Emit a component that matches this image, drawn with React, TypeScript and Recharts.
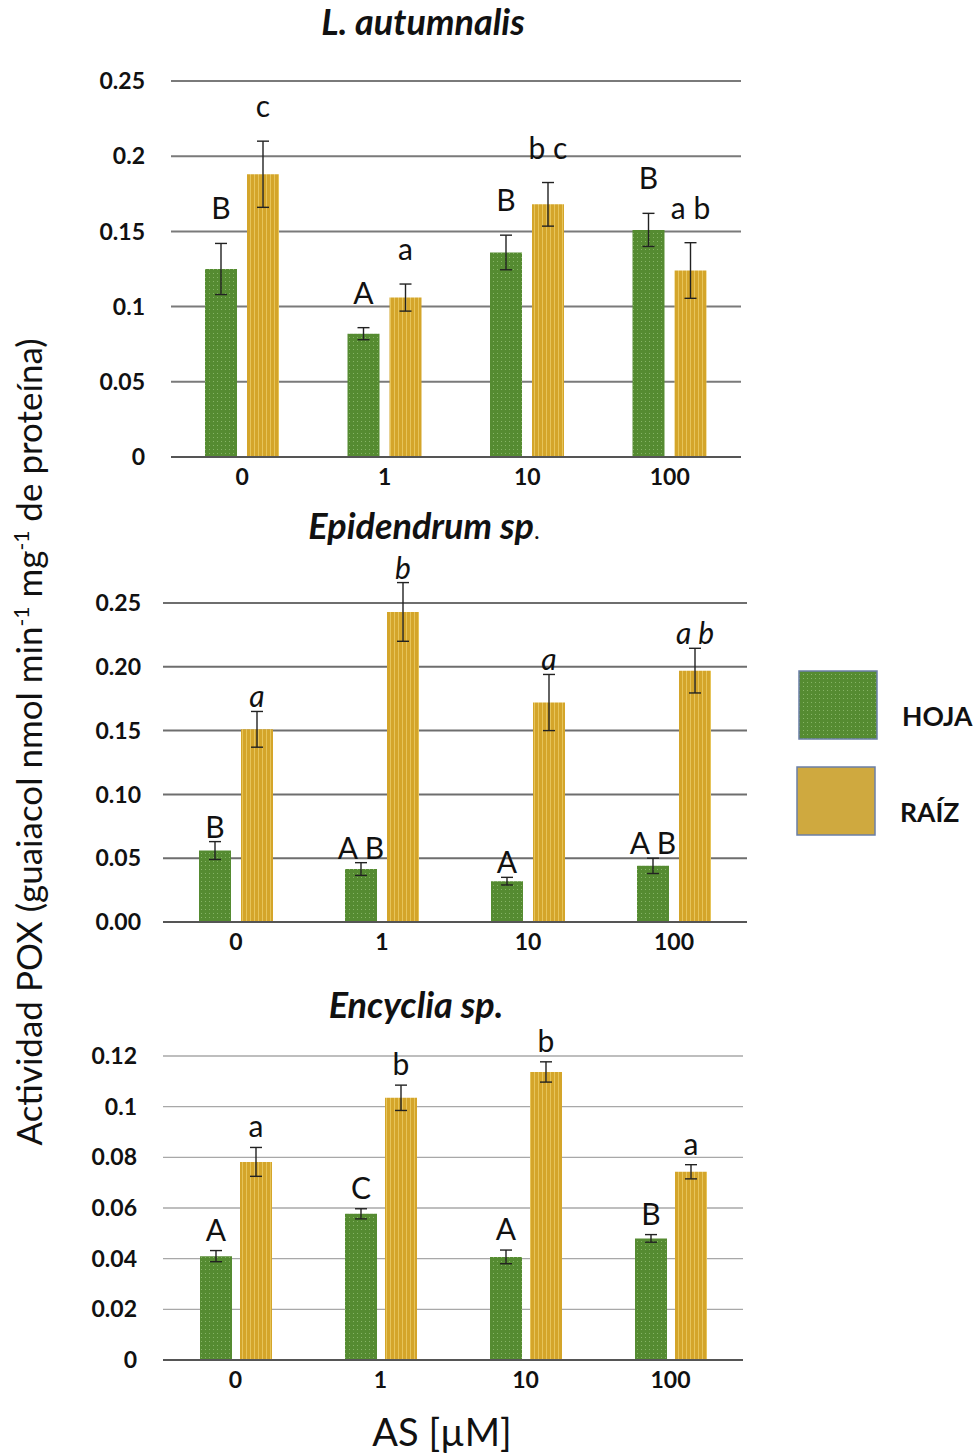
import React from "react";
import { Bar, BarChart, CartesianGrid, ErrorBar, LabelList, XAxis, YAxis } from "recharts";

const doses = ["0", "1", "10", "100"];

// L. autumnalis
const lautHoja = [0.125, 0.082, 0.136, 0.151];
const lautHojaErr = [0.017, 0.004, 0.0115, 0.011];
const lautRaiz = [0.188, 0.106, 0.168, 0.124];
const lautRaizErr = [0.022, 0.009, 0.0145, 0.0185];
const lautHojaLetters = ["B", "A", "B", "B"];
const lautRaizLetters = ["c", "a", "b c", "a b"];
const lautTicks = [0, 0.05, 0.1, 0.15, 0.2, 0.25];

// Epidendrum sp.
const epiHoja = [0.056, 0.0415, 0.032, 0.044];
const epiHojaErr = [0.007, 0.005, 0.003, 0.006];
const epiRaiz = [0.151, 0.243, 0.172, 0.197];
const epiRaizErr = [0.014, 0.023, 0.022, 0.0175];
const epiHojaLetters = ["B", "A B", "A", "A B"];
const epiRaizLetters = ["a", "b", "a", "a b"];
const epiTicks = [0, 0.05, 0.1, 0.15, 0.2, 0.25];

// Encyclia sp.
const encHoja = [0.041, 0.0577, 0.0407, 0.048];
const encHojaErr = [0.0022, 0.002, 0.0027, 0.0015];
const encRaiz = [0.0782, 0.1035, 0.1137, 0.0743];
const encRaizErr = [0.0057, 0.005, 0.004, 0.0028];
const encHojaLetters = ["A", "C", "A", "B"];
const encRaizLetters = ["a", "b", "b", "a"];
const encTicks = [0, 0.02, 0.04, 0.06, 0.08, 0.1, 0.12];

const FONT = "Lato, 'Open Sans', sans-serif";

function buildRows(hoja: number[], hojaErr: number[], raiz: number[], raizErr: number[]) {
  return doses.map((dose, i) => ({
    dose,
    hoja: hoja[i],
    hojaErr: hojaErr[i],
    raiz: raiz[i],
    raizErr: raizErr[i],
  }));
}

// letter above the error bar; px per unit derived from the bar itself
const letterLabel =
  (letters: string[], values: number[], errs: number[], offset: number, italic: boolean) =>
  (props: any) => {
    const { x, y, width, height, index } = props;
    const v = values[index];
    const pxPer = v ? Number(height) / v : 0;
    const cy = Number(y) - errs[index] * pxPer - offset;
    return (
      <text
        x={Number(x) + Number(width) / 2}
        y={cy}
        textAnchor="middle"
        dominantBaseline="central"
        fontSize={30}
        fontStyle={italic ? "italic" : "normal"}
        fontFamily={FONT}
        fill="#111"
      >
        {letters[index]}
      </text>
    );
  };

type PanelProps = {
  top: number;
  height: number;
  marginTop: number;
  marginRight: number;
  yWidth: number;
  tickGap: number;
  ticks: number[];
  fmt: (v: number) => string;
  rows: any[];
  gridStroke: string;
  gridWidth: number;
  barGap: number;
  hojaLetters: string[];
  raizLetters: string[];
  hojaVals: number[];
  hojaErrs: number[];
  raizVals: number[];
  raizErrs: number[];
  offset: number;
  italicLower: boolean;
};

function Panel(p: PanelProps) {
  const max = p.ticks[p.ticks.length - 1];
  return (
    <div style={{ position: "absolute", left: 0, top: p.top }}>
      <BarChart
        width={760}
        height={p.height}
        data={p.rows}
        margin={{ top: p.marginTop, right: p.marginRight, bottom: 13, left: 0 }}
        barGap={p.barGap}
        barSize={32}
      >
        <CartesianGrid vertical={false} stroke={p.gridStroke} strokeWidth={p.gridWidth} />
        <XAxis
          dataKey="dose"
          height={30}
          tickLine={false}
          tickSize={0}
          tickMargin={12}
          axisLine={{ stroke: "#555", strokeWidth: 2 }}
          tick={{ fill: "#111", fontSize: 23, fontWeight: 700, fontFamily: FONT }}
        />
        <YAxis
          width={p.yWidth}
          domain={[0, max]}
          allowDataOverflow={true}
          ticks={p.ticks}
          tickFormatter={p.fmt}
          axisLine={false}
          tickLine={false}
          tickSize={0}
          tickMargin={p.tickGap}
          tick={{ fill: "#111", fontSize: 23, fontWeight: 700, fontFamily: FONT }}
          interval={0}
        />
        <Bar dataKey="hoja" fill="url(#hojaPat)" isAnimationActive={false}>
          <ErrorBar dataKey="hojaErr" width={6} stroke="#222" strokeWidth={1.4} />
          <LabelList
            dataKey="hoja"
            content={letterLabel(p.hojaLetters, p.hojaVals, p.hojaErrs, p.offset, false)}
          />
        </Bar>
        <Bar dataKey="raiz" fill="url(#raizPat)" isAnimationActive={false}>
          <ErrorBar dataKey="raizErr" width={6} stroke="#222" strokeWidth={1.4} />
          <LabelList
            dataKey="raiz"
            content={letterLabel(p.raizLetters, p.raizVals, p.raizErrs, p.offset, p.italicLower)}
          />
        </Bar>
      </BarChart>
    </div>
  );
}

const titleStyle: React.CSSProperties = {
  position: "absolute",
  fontFamily: FONT,
  fontWeight: 700,
  fontStyle: "italic",
  fontSize: 36,
  lineHeight: 1,
  color: "#111",
  whiteSpace: "nowrap",
  transform: "translate(-50%, -50%)",
};

export default function App() {
  return (
    <div
      style={{
        position: "absolute",
        left: 0,
        top: 0,
        width: 978,
        height: 1454,
        background: "#fff",
        overflow: "hidden",
        fontFamily: FONT,
      }}
    >
      <svg width={0} height={0} style={{ position: "absolute" }}>
        <defs>
          <pattern id="hojaPat" width={4} height={4} patternUnits="userSpaceOnUse">
            <rect width={4} height={4} fill="#558b31" />
            <rect x={1} y={1} width={1} height={1} fill="#86b466" />
          </pattern>
          <pattern id="raizPat" width={4} height={4} patternUnits="userSpaceOnUse">
            <rect width={4} height={4} fill="#d4a52a" />
            <rect x={2} y={0} width={1} height={4} fill="#e6c45a" />
          </pattern>
        </defs>
      </svg>

      <Panel
        top={0}
        height={500}
        marginTop={81}
        marginRight={19}
        yWidth={171}
        tickGap={26}
        ticks={lautTicks}
        fmt={(v) => String(v)}
        rows={buildRows(lautHoja, lautHojaErr, lautRaiz, lautRaizErr)}
        gridStroke="#7a7a7a"
        gridWidth={2}
        barGap={10}
        hojaLetters={lautHojaLetters}
        raizLetters={lautRaizLetters}
        hojaVals={lautHoja}
        hojaErrs={lautHojaErr}
        raizVals={lautRaiz}
        raizErrs={lautRaizErr}
        offset={36}
        italicLower={false}
      />
      <Panel
        top={540}
        height={425}
        marginTop={63}
        marginRight={13}
        yWidth={163}
        tickGap={22}
        ticks={epiTicks}
        fmt={(v) => v.toFixed(2)}
        rows={buildRows(epiHoja, epiHojaErr, epiRaiz, epiRaizErr)}
        gridStroke="#6e6e6e"
        gridWidth={2}
        barGap={10}
        hojaLetters={epiHojaLetters}
        raizLetters={epiRaizLetters}
        hojaVals={epiHoja}
        hojaErrs={epiHojaErr}
        raizVals={epiRaiz}
        raizErrs={epiRaizErr}
        offset={16}
        italicLower={true}
      />
      <Panel
        top={1020}
        height={383}
        marginTop={36}
        marginRight={17}
        yWidth={163}
        tickGap={26}
        ticks={encTicks}
        fmt={(v) => String(v)}
        rows={buildRows(encHoja, encHojaErr, encRaiz, encRaizErr)}
        gridStroke="#a8a8a8"
        gridWidth={1.3}
        barGap={8}
        hojaLetters={encHojaLetters}
        raizLetters={encRaizLetters}
        hojaVals={encHoja}
        hojaErrs={encHojaErr}
        raizVals={encRaiz}
        raizErrs={encRaizErr}
        offset={22}
        italicLower={false}
      />

      <div style={{ ...titleStyle, left: 423, top: 21 }}>L. autumnalis</div>
      <div style={{ ...titleStyle, left: 424, top: 525 }}>
        Epidendrum sp<span style={{ fontWeight: 400, fontStyle: "normal", fontSize: 24 }}>.</span>
      </div>
      <div style={{ ...titleStyle, left: 416, top: 1004 }}>Encyclia sp.</div>

      {/* shared y label */}
      <div
        style={{
          position: "absolute",
          left: 28,
          top: 742,
          transform: "translate(-50%, -50%) rotate(-90deg)",
          whiteSpace: "nowrap",
          fontSize: 35,
          color: "#111",
        }}
      >
        Actividad POX (guaiacol nmol min<sup style={{ fontSize: 21 }}>-1</sup> mg
        <sup style={{ fontSize: 21 }}>-1</sup> de proteína)
      </div>

      <div
        style={{
          position: "absolute",
          left: 442,
          top: 1431,
          transform: "translate(-50%, -50%)",
          fontSize: 38,
          color: "#111",
          whiteSpace: "nowrap",
        }}
      >
        AS [µM]
      </div>

      {/* legend */}
      <svg width={100} height={180} style={{ position: "absolute", left: 790, top: 665 }}>
        <rect x={9} y={6} width={78} height={68} fill="url(#hojaPat)" stroke="#6b7fa6" strokeWidth={1.5} />
        <rect x={7} y={102} width={78} height={68} fill="#cfa93f" stroke="#6b7fa6" strokeWidth={1.5} />
      </svg>
      <div
        style={{ position: "absolute", left: 902, top: 700, fontSize: 26.5, fontWeight: 700, color: "#111" }}
      >
        HOJA
      </div>
      <div
        style={{ position: "absolute", left: 900, top: 796, fontSize: 26.5, fontWeight: 700, color: "#111" }}
      >
        RAÍZ
      </div>
    </div>
  );
}
